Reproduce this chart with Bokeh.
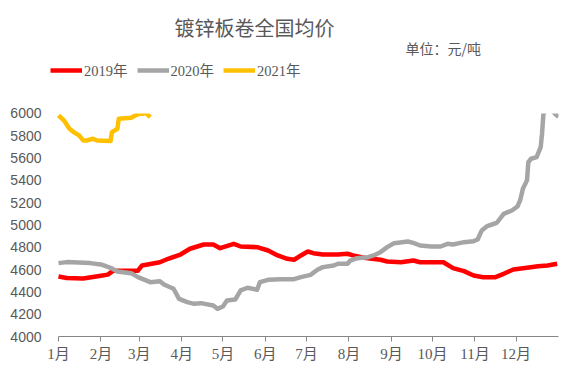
from bokeh.plotting import figure
from bokeh.models import (Range1d, FixedTicker, Label, Legend, LegendItem, BoxAnnotation)
from bokeh.embed import file_html
from bokeh.resources import INLINE

# ---- data (day of year, price) ----
month_labels = ["1月", "2月", "3月", "4月", "5月", "6月", "7月", "8月", "9月", "10月", "11月", "12月"]
month_starts = [0, 31, 59, 90, 120, 151, 181, 212, 243, 273, 304, 334]
y_ticks = [4000, 4200, 4400, 4600, 4800, 5000, 5200, 5400, 5600, 5800, 6000]

days_2019 = [0, 6, 18, 31, 36, 40, 58, 61, 74, 80, 89, 96, 106, 113, 118, 128, 133, 145, 153,
             160, 167, 172, 177, 182, 186, 193, 204, 211, 215, 223, 235, 240, 250, 259, 264,
             281, 288, 296, 303, 310, 319, 325, 332, 342, 350, 357, 364]
price_2019 = [4538, 4525, 4520, 4545, 4555, 4590, 4590, 4637, 4666, 4697, 4735, 4787, 4825,
              4825, 4792, 4831, 4807, 4801, 4771, 4727, 4697, 4688, 4727, 4762, 4747, 4735,
              4735, 4742, 4727, 4706, 4688, 4673, 4666, 4681, 4666, 4666, 4613, 4586, 4547,
              4532, 4532, 4562, 4601, 4616, 4630, 4637, 4652]

days_2020 = [0, 6, 23, 31, 38, 43, 53, 58, 67, 74, 77, 84, 88, 94, 99, 104, 113, 116, 120,
             123, 129, 133, 138, 145, 147, 153, 162, 172, 177, 184, 189, 193, 201, 204, 211,
             213, 218, 226, 230, 235, 240, 245, 255, 259, 264, 272, 279, 284, 288, 296, 303,
             306, 309, 313, 318, 320, 325, 331, 335, 337, 339, 342, 343, 345, 349, 352, 353,
             354, 358, 361, 363, 365]
price_2020 = [4658, 4667, 4658, 4646, 4616, 4583, 4568, 4532, 4487, 4496, 4466, 4428, 4338,
              4308, 4293, 4299, 4278, 4248, 4269, 4323, 4332, 4413, 4437, 4419, 4487, 4508,
              4514, 4514, 4532, 4553, 4598, 4622, 4637, 4652, 4652, 4681, 4702, 4711, 4727,
              4756, 4801, 4837, 4852, 4840, 4816, 4807, 4807, 4831, 4825, 4846, 4855, 4870,
              4951, 4990, 5011, 5020, 5100, 5130, 5166, 5220, 5325, 5400, 5563, 5594, 5608,
              5698, 5821, 5998, 6060, 6020, 5990, 5970]

days_2021 = [0, 4, 8, 11, 15, 18, 21, 25, 28, 38, 39, 43, 44, 53, 56, 59, 62, 63, 65, 67]
price_2021 = [5982, 5937, 5863, 5833, 5803, 5758, 5758, 5773, 5758, 5752, 5833, 5863, 5953,
              5962, 5982, 5998, 5998, 6015, 5990, 5967]

TXT = "#595959"
NUM_FONT = "Liberation Serif, Noto Sans CJK SC"
Y_FONT = "Liberation Sans"
CJK_FONT = "Noto Sans CJK SC"

# plot area reaches to the top so that title/legend can live inside it; a white
# box above the 6000 line reproduces the clipping of the original chart
p = figure(width=576, height=373, output_backend="svg", toolbar_location=None,
           x_range=Range1d(-7.3, 365), y_range=Range1d(4000, 6968),
           min_border_left=48, min_border_right=18, min_border_top=5, min_border_bottom=37)
p.outline_line_color = None
p.xgrid.grid_line_color = None
p.ygrid.grid_line_color = None
p.background_fill_color = "white"
p.border_fill_color = "white"

r19 = p.line(days_2019, price_2019, line_color="#FF0000", line_width=4.5, line_join="round")
r20 = p.line(days_2020, price_2020, line_color="#A5A5A5", line_width=4.5, line_join="round")
r21 = p.line(days_2021, price_2021, line_color="#FFC000", line_width=4.5, line_join="round")

p.add_layout(BoxAnnotation(bottom=6000, fill_color="white", fill_alpha=1.0, line_color=None))

# y axis
p.yaxis.ticker = FixedTicker(ticks=y_ticks)
p.yaxis.axis_line_color = None
p.yaxis.major_tick_line_color = None
p.yaxis.minor_tick_line_color = None
p.yaxis.major_label_text_font = Y_FONT
p.yaxis.major_label_text_font_size = "14px"
p.yaxis.major_label_text_color = TXT
p.yaxis.major_label_standoff = 1

# x axis
p.xaxis.ticker = FixedTicker(ticks=month_starts)
p.xaxis.bounds = (0, 365)
p.xaxis.major_label_overrides = {d: m for d, m in zip(month_starts, month_labels)}
p.xaxis.axis_line_color = "#868686"
p.xaxis.major_tick_line_color = "#868686"
p.xaxis.major_tick_out = 5
p.xaxis.major_tick_in = 0
p.xaxis.minor_tick_line_color = None
p.xaxis.major_label_text_font = NUM_FONT
p.xaxis.major_label_text_font_size = "15px"
p.xaxis.major_label_text_color = TXT
p.xaxis.major_label_standoff = 4

# title and unit
p.add_layout(Label(x=206, y=309, x_units="screen", y_units="screen", text="镀锌板卷全国均价",
                   text_font=CJK_FONT, text_font_size="20px", text_color=TXT,
                   text_align="center", text_baseline="middle"))
p.add_layout(Label(x=357, y=289, x_units="screen", y_units="screen", text="单位：元/吨",
                   text_font=CJK_FONT, text_font_size="14px", text_color=TXT,
                   text_align="left", text_baseline="middle"))

legend = Legend(items=[LegendItem(label="2019年", renderers=[r19]),
                       LegendItem(label="2020年", renderers=[r20]),
                       LegendItem(label="2021年", renderers=[r21])],
                location=(2, 256), orientation="horizontal",
                border_line_color=None, background_fill_alpha=0,
                padding=0, margin=0, spacing=9, label_standoff=2,
                glyph_width=32, glyph_height=20, label_height=20,
                label_text_font=NUM_FONT, label_text_font_size="14.5px",
                label_text_color=TXT)
p.add_layout(legend, "center")

open("out.html", "w").write(file_html(p, INLINE))
